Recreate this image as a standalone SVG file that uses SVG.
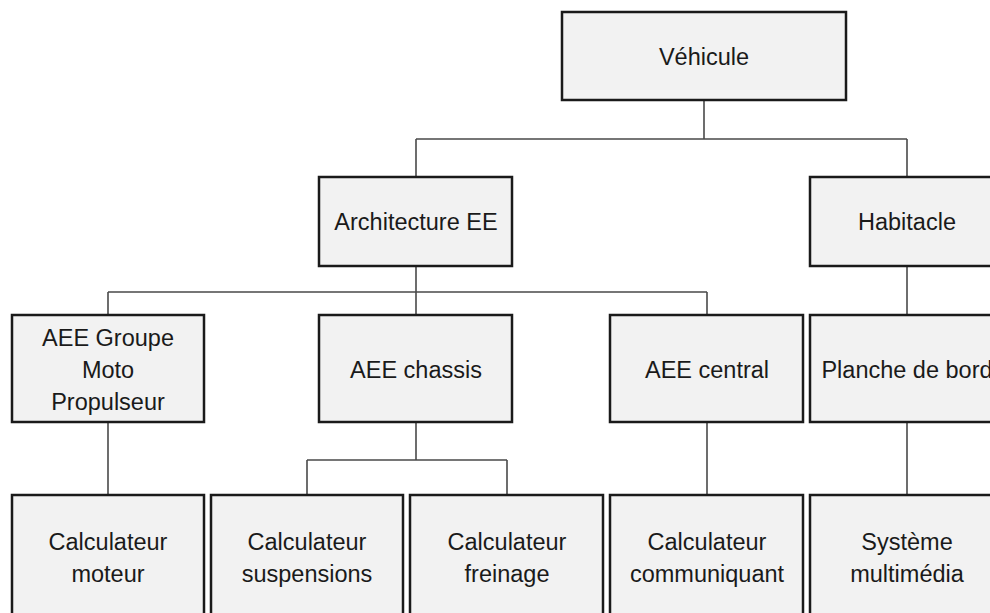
<svg xmlns="http://www.w3.org/2000/svg" width="990" height="613" viewBox="0 0 990 613">
<style>
.box{fill:#f2f2f2;stroke:#1a1a1a;stroke-width:2.5}
.lbl{font-family:"Liberation Sans",Arial,sans-serif;font-size:23.5px;fill:#1a1a1a;text-anchor:middle}
.con{fill:none;stroke:#4a4a4a;stroke-width:1.6}
</style>
<rect width="990" height="613" fill="#ffffff"/>
<g id="connectors">
<path class="con" d="M704,100 V139 M416,139 H907 M416,139 V177 M907,139 V177"/>
<path class="con" d="M416,266 V292 M108,292 H707 M108,292 V315 M416,292 V315 M707,292 V315"/>
<path class="con" d="M907,266 V315"/>
<path class="con" d="M108,422 V495 M416,422 V460 M307,460 H507 M307,460 V495 M507,460 V495 M707,422 V495 M907,422 V495"/>
</g>
<g id="vehicule"><rect class="box" x="562" y="12" width="284" height="88"/><text class="lbl" x="704" y="65">Véhicule</text></g>
<g id="architecture-ee"><rect class="box" x="319" y="177" width="193" height="89"/><text class="lbl" x="416" y="230">Architecture EE</text></g>
<g id="habitacle"><rect class="box" x="810" y="177" width="193" height="89"/><text class="lbl" x="907" y="230">Habitacle</text></g>
<g id="aee-gmp"><rect class="box" x="12" y="315" width="192" height="107"/><text class="lbl" x="108" y="346">AEE Groupe</text><text class="lbl" x="108" y="378">Moto</text><text class="lbl" x="108" y="410">Propulseur</text></g>
<g id="aee-chassis"><rect class="box" x="319" y="315" width="193" height="107"/><text class="lbl" x="416" y="378">AEE chassis</text></g>
<g id="aee-central"><rect class="box" x="610" y="315" width="193" height="107"/><text class="lbl" x="707" y="378">AEE central</text></g>
<g id="planche"><rect class="box" x="810" y="315" width="193" height="107"/><text class="lbl" x="907" y="378">Planche de bord</text></g>
<g id="calc-moteur"><rect class="box" x="12" y="495" width="192" height="130"/><text class="lbl" x="108" y="550">Calculateur</text><text class="lbl" x="108" y="582">moteur</text></g>
<g id="calc-suspensions"><rect class="box" x="211" y="495" width="192" height="130"/><text class="lbl" x="307" y="550">Calculateur</text><text class="lbl" x="307" y="582">suspensions</text></g>
<g id="calc-freinage"><rect class="box" x="410" y="495" width="193" height="130"/><text class="lbl" x="507" y="550">Calculateur</text><text class="lbl" x="507" y="582">freinage</text></g>
<g id="calc-communiquant"><rect class="box" x="610" y="495" width="193" height="130"/><text class="lbl" x="707" y="550">Calculateur</text><text class="lbl" x="707" y="582">communiquant</text></g>
<g id="systeme-multimedia"><rect class="box" x="810" y="495" width="193" height="130"/><text class="lbl" x="907" y="550">Système</text><text class="lbl" x="907" y="582">multimédia</text></g>
</svg>
